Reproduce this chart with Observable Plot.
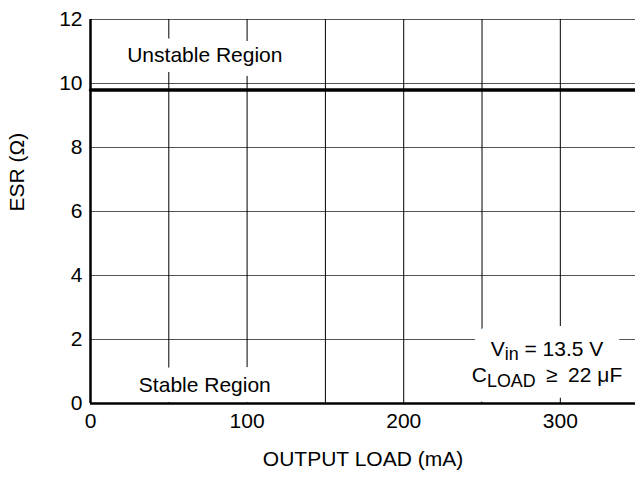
<!DOCTYPE html>
<html><head><meta charset="utf-8">
<script src="https://cdn.jsdelivr.net/npm/d3@7"></script>
<script src="https://cdn.jsdelivr.net/npm/@observablehq/plot@0.6"></script>
<style>body{margin:0;background:#fff;}</style>
</head><body><div id="chart"></div>
<script>
const xDomain = [0, 348];
const yDomain = [0, 12];
const xTicks = [0, 100, 200, 300];
const xGrid = [50, 100, 150, 200, 250, 300];
const yTicks = [0, 2, 4, 6, 8, 10, 12];
const yGrid = [2, 4, 6, 8, 10, 12];
const boundaryLoad = [0, 348];
const boundaryESR = [9.8, 9.8];
const regionNames = ["Unstable Region", "Stable Region"];
const regionX = [73, 73];
const regionY = [10.89, 0.56];
const condMain = ["V", "C"];
const condSub = ["in", "LOAD"];
const condRest = [" = 13.5 V", "\u2002\u2265\u200222 \u03BCF"];
const condX = [291.5, 291.5];
const condY = [1.7, 0.87];

const boundary = boundaryLoad.map((x, i) => ({x, y: boundaryESR[i]}));
const regions = regionNames.map((t, i) => ({t, x: regionX[i], y: regionY[i]}));
const conds = condMain.map((m, i) => ({t: m + condSub[i] + condRest[i], x: condX[i], y: condY[i]}));

const FS = 21;
const font = "'Liberation Sans', Arial, Helvetica, sans-serif";
const chart = Plot.plot({
  width: 635, height: 483,
  marginLeft: 90, marginRight: 0, marginTop: 19, marginBottom: 80,
  style: {fontFamily: font, fontSize: FS + "px", color: "#000", background: "#fff", overflow: "visible"},
  x: {domain: xDomain, label: null},
  y: {domain: yDomain, label: null},
  marks: [
    Plot.ruleY(yGrid, {stroke: "#555", strokeWidth: 1}),
    Plot.ruleX(xGrid, {stroke: "#000", strokeWidth: 1}),
    Plot.line(boundary, {x: "x", y: "y", stroke: "#000", strokeWidth: 3.5}),
    // white halos behind labels (break the grid like the reference)
    Plot.text(regions, {x: "x", y: "y", text: "t", fill: "#fff", stroke: "#fff", strokeWidth: 20, fontSize: FS}),
    Plot.text(conds, {x: "x", y: "y", text: "t", fill: "#fff", stroke: "#fff", strokeWidth: 32, strokeLinejoin: "round", fontSize: FS}),
    Plot.text(regions, {x: "x", y: "y", text: "t", fill: "#000", fontSize: FS}),
    Plot.text(conds, {x: "x", y: "y", text: "t", fill: "#000", fontSize: FS}),
    Plot.ruleX([0], {stroke: "#000", strokeWidth: 2.5}),
    Plot.ruleY([0], {stroke: "#000", strokeWidth: 2.5}),
    Plot.axisX({ticks: xTicks, tickSize: 0, tickPadding: 10, label: null, fontSize: FS}),
    Plot.axisY({ticks: yTicks, tickSize: 0, tickPadding: 8, label: null, fontSize: FS}),
    Plot.text(["OUTPUT LOAD (mA)"], {frameAnchor: "bottom", dy: 62, fontSize: FS}),
    Plot.text(["ESR (\u03A9)"], {frameAnchor: "left", dx: -73, rotate: -90, fontSize: FS})
  ]
});
document.getElementById("chart").appendChild(chart);
// add subscripts
d3.select(chart).selectAll("text").each(function() {
  const el = d3.select(this);
  const txt = this.textContent;
  conds.forEach((c, i) => {
    if (txt === c.t) {
      el.text(null);
      el.append("tspan").text(condMain[i]);
      el.append("tspan").attr("dy", "0.24em").attr("font-size", "0.85em").text(condSub[i]);
      el.append("tspan").attr("dy", "-0.204em").text(condRest[i]);
    }
  });
});
</script>
</body></html>
